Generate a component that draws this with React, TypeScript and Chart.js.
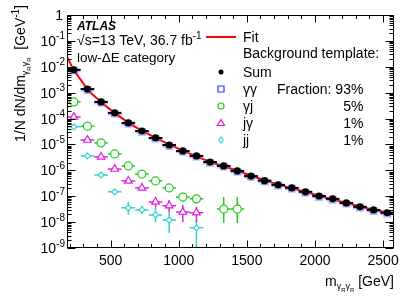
import React, { useEffect, useRef } from 'react';
import { Chart, registerables } from 'chart.js';

Chart.register(...registerables);

// ---------- data ----------
const massBins = [230, 330, 430, 530, 630, 730, 830, 930, 1030, 1130, 1230, 1330, 1430, 1530, 1630, 1730, 1830, 1930, 2030, 2130, 2230, 2330, 2430, 2530];
const binHalfWidth = 50;

const sumValues = [7.6e-3, 1.38e-3, 4.4e-4, 1.66e-4, 6.8e-5, 3.3e-5, 1.78e-5, 9.5e-6, 5.6e-6, 3.6e-6, 2.1e-6, 1.48e-6, 9.5e-7, 6.0e-7, 4.0e-7, 2.75e-7, 2.1e-7, 1.48e-7, 1.02e-7, 7.9e-8, 5.5e-8, 3.9e-8, 2.95e-8, 2.3e-8];
const ggValues = [7.07e-3, 1.28e-3, 4.09e-4, 1.54e-4, 6.32e-5, 3.07e-5, 1.66e-5, 8.84e-6, 5.21e-6, 3.35e-6, 1.95e-6, 1.38e-6, 8.84e-7, 5.58e-7, 3.72e-7, 2.56e-7, 1.95e-7, 1.38e-7, 9.49e-8, 7.35e-8, 5.12e-8, 3.63e-8, 2.74e-8, 2.14e-8];

const gjMass = [230, 330, 430, 530, 630, 730, 830, 930, 1030, 1130, 1330, 1430];
const gjValues = [4.4e-4, 5.1e-5, 1.15e-5, 4.3e-6, 1.48e-6, 7.2e-7, 3.9e-7, 2.1e-7, 9.3e-8, 7.9e-8, 3.2e-8, 3.2e-8];
const gjErrHigh = [null, null, null, null, null, null, null, null, 1.35e-7, 1.12e-7, 9.3e-8, 9.3e-8];
const gjErrLow = [null, null, null, null, null, null, null, null, 6.0e-8, 5.5e-8, 9.3e-9, 9.3e-9];

const jgMass = [230, 330, 430, 530, 630, 730, 830, 930, 1030, 1130];
const jgValues = [1.15e-4, 1.48e-5, 3.3e-6, 1.12e-6, 3.9e-7, 2.1e-7, 6.0e-8, 4.3e-8, 2.45e-8, 2.3e-8];
const jgErrHigh = [null, null, null, null, null, null, 8.5e-8, 7.2e-8, 4.6e-8, 3.9e-8];
const jgErrLow = [null, null, null, null, null, null, 3.55e-8, 2.45e-8, 1.0e-8, 1.0e-8];

const jjMass = [230, 330, 430, 530, 630, 730, 830, 930, 1130];
const jjValues = [4.8e-5, 3.6e-6, 6.6e-7, 1.48e-7, 3.55e-8, 2.95e-8, 1.9e-8, 1.2e-8, 6.0e-9];
const jjErrHigh = [null, null, null, null, 6.0e-8, 4.3e-8, 3.55e-8, 2.45e-8, 1.2e-8];
const jjErrLow = [null, null, null, null, 1.9e-8, 2.1e-8, 1.02e-8, 3.8e-9, 5e-10];

const fitMass = [180, 230, 280, 330, 430, 530, 630, 730, 830, 1030, 1230, 1430, 1630, 1830, 2030, 2230, 2430, 2580];
const fitValues = [2.4e-2, 7.6e-3, 3.2e-3, 1.38e-3, 4.4e-4, 1.66e-4, 7.0e-5, 3.4e-5, 1.8e-5, 5.8e-6, 2.15e-6, 9.6e-7, 4.1e-7, 2.05e-7, 1.05e-7, 5.5e-8, 3.0e-8, 2.0e-8];

const xMin = 180;
const xMax = 2580;
const xMajorTicks = [500, 1000, 1500, 2000, 2500];
const yExponents = [0, -1, -2, -3, -4, -5, -6, -7, -8, -9];

const legendLabels = ['Sum', 'γγ', 'γj', 'jγ', 'jj'];
const fractionLabels = ['93%', '5%', '1%', '1%'];

// ---------- styling ----------
const FONT = "'Liberation Sans', Arial, Helvetica, sans-serif";
const GREEN = '#22cc22';
const MAGENTA = '#dd22dd';
const CYAN = '#33d0d0';
const BLUE = '#3333ff';

type Part = { t: string; s: number; dy?: number; f?: string };

function partFont(p: Part) {
  return `${p.f || ''} ${p.s}px ${FONT}`.trim();
}
function richWidth(ctx: CanvasRenderingContext2D, parts: Part[]) {
  let w = 0;
  for (const p of parts) {
    ctx.font = partFont(p);
    w += ctx.measureText(p.t).width;
  }
  return w;
}
function drawRich(ctx: CanvasRenderingContext2D, parts: Part[], x: number, y: number) {
  let cx = x;
  for (const p of parts) {
    ctx.font = partFont(p);
    ctx.fillText(p.t, cx, y + (p.dy || 0));
    cx += ctx.measureText(p.t).width;
  }
}

function drawMarker(ctx: CanvasRenderingContext2D, kind: string, x: number, y: number, color: string) {
  ctx.save();
  ctx.strokeStyle = color;
  ctx.fillStyle = color;
  ctx.lineWidth = 1.2;
  ctx.beginPath();
  if (kind === 'dot') {
    ctx.arc(x, y, 2.5, 0, Math.PI * 2);
    ctx.fill();
  } else if (kind === 'square') {
    ctx.rect(x - 3, y - 3, 6, 6);
    ctx.stroke();
  } else if (kind === 'circle') {
    ctx.arc(x, y, 3, 0, Math.PI * 2);
    ctx.stroke();
  } else if (kind === 'triangle') {
    ctx.moveTo(x, y - 3.5);
    ctx.lineTo(x + 3.5, y + 2.5);
    ctx.lineTo(x - 3.5, y + 2.5);
    ctx.closePath();
    ctx.stroke();
  } else if (kind === 'diamond') {
    ctx.moveTo(x, y - 3);
    ctx.lineTo(x + 2.2, y);
    ctx.lineTo(x, y + 3);
    ctx.lineTo(x - 2.2, y);
    ctx.closePath();
    ctx.stroke();
  }
  ctx.restore();
}

const rootStyle = {
  id: 'rootStyle',
  beforeDatasetDraw(chart: any, args: any) {
    const ds = chart.data.datasets[args.index];
    if (!ds.errBars) return;
    const { ctx, chartArea } = chart;
    const xs = chart.scales.x;
    const ys = chart.scales.y;
    ctx.save();
    ctx.beginPath();
    ctx.rect(chartArea.left, chartArea.top, chartArea.right - chartArea.left, chartArea.bottom - chartArea.top);
    ctx.clip();
    ctx.strokeStyle = ds.errColor;
    ctx.lineWidth = ds.errWidth || 1.5;
    ds.data.forEach((pt: any, i: number) => {
      const px = xs.getPixelForValue(pt.x);
      const py = ys.getPixelForValue(pt.y);
      const x0 = xs.getPixelForValue(pt.x - binHalfWidth);
      const x1 = xs.getPixelForValue(pt.x + binHalfWidth);
      ctx.beginPath();
      ctx.moveTo(x0, py);
      ctx.lineTo(x1, py);
      const hi = ds.errHigh ? ds.errHigh[i] : null;
      const lo = ds.errLow ? ds.errLow[i] : null;
      if (hi != null && lo != null) {
        ctx.moveTo(px, ys.getPixelForValue(hi));
        ctx.lineTo(px, ys.getPixelForValue(lo));
      }
      ctx.stroke();
    });
    ctx.restore();
  },
  afterDraw(chart: any) {
    const { ctx, chartArea } = chart;
    const xs = chart.scales.x;
    const ys = chart.scales.y;
    const L = Math.round(chartArea.left) + 0.5;
    const R = Math.round(chartArea.right) - 0.5;
    const T = Math.round(chartArea.top) + 0.5;
    const B = Math.round(chartArea.bottom) - 0.5;
    ctx.save();
    ctx.strokeStyle = '#000';
    ctx.lineWidth = 1;
    ctx.strokeRect(L, T, R - L, B - T);

    // x ticks
    ctx.beginPath();
    for (let v = 200; v <= xMax; v += 100) {
      if (v <= xMin) continue;
      const px = Math.round(xs.getPixelForValue(v)) + 0.5;
      const len = v % 500 === 0 ? 7 : 3.5;
      ctx.moveTo(px, B);
      ctx.lineTo(px, B - len);
      ctx.moveTo(px, T);
      ctx.lineTo(px, T + len);
    }
    // y ticks
    for (const e of yExponents) {
      const base = Math.pow(10, e);
      const py = Math.round(ys.getPixelForValue(base)) + 0.5;
      ctx.moveTo(L, py);
      ctx.lineTo(L + 8, py);
      ctx.moveTo(R, py);
      ctx.lineTo(R - 8, py);
      if (e < 0) {
        for (let k = 2; k <= 9; k++) {
          const my = Math.round(ys.getPixelForValue(k * base)) + 0.5;
          ctx.moveTo(L, my);
          ctx.lineTo(L + 4, my);
          ctx.moveTo(R, my);
          ctx.lineTo(R - 4, my);
        }
      }
    }
    ctx.stroke();

    ctx.fillStyle = '#000';
    ctx.textBaseline = 'alphabetic';
    // x tick labels
    ctx.font = `14px ${FONT}`;
    ctx.textAlign = 'center';
    for (const v of xMajorTicks) {
      ctx.fillText(String(v), xs.getPixelForValue(v), 265);
    }
    // y tick labels
    ctx.textAlign = 'left';
    for (const e of yExponents) {
      const py = ys.getPixelForValue(Math.pow(10, e));
      const parts: Part[] = e === 0 ? [{ t: '1', s: 14 }] : [{ t: '10', s: 14 }, { t: String(e), s: 10, dy: -6.5 }];
      const w = richWidth(ctx, parts);
      const right = e === 0 ? 63 : 65;
      drawRich(ctx, parts, right - w, py + 5);
    }

    // x title
    const xt: Part[] = [
      { t: 'm', s: 14 },
      { t: 'γ', s: 9, dy: 3 },
      { t: 'R', s: 6, dy: 6 },
      { t: 'γ', s: 9, dy: 3 },
      { t: 'R', s: 6, dy: 6 },
      { t: ' [GeV]', s: 14 },
    ];
    const xtw = richWidth(ctx, xt);
    drawRich(ctx, xt, 394 - xtw, 286);

    // y title
    const yt: Part[] = [
      { t: '1/N dN/dm', s: 14 },
      { t: 'γ', s: 9, dy: 3 },
      { t: 'R', s: 6, dy: 6 },
      { t: 'γ', s: 9, dy: 3 },
      { t: 'R', s: 6, dy: 6 },
      { t: '  [GeV', s: 14 },
      { t: '-1', s: 10, dy: -6 },
      { t: ']', s: 14 },
    ];
    const ytw = richWidth(ctx, yt);
    ctx.save();
    ctx.translate(25, 5 + ytw);
    ctx.rotate(-Math.PI / 2);
    drawRich(ctx, yt, 0, 0);
    ctx.restore();

    // ATLAS label
    drawRich(ctx, [{ t: 'ATLAS', s: 12, f: 'italic bold' }], 77, 30);
    drawRich(ctx, [{ t: '√s=13 TeV, 36.7 fb', s: 14 }, { t: '-1', s: 10, dy: -6 }], 77, 45);
    drawRich(ctx, [{ t: 'low-ΔE category', s: 13.5 }], 77, 62);

    // legend
    ctx.textBaseline = 'middle';
    ctx.font = `14px ${FONT}`;
    ctx.textAlign = 'left';
    ctx.strokeStyle = '#ff0000';
    ctx.lineWidth = 2;
    ctx.beginPath();
    ctx.moveTo(206, 37);
    ctx.lineTo(236, 37);
    ctx.stroke();
    ctx.fillText('Fit', 243, 38);
    ctx.fillText('Background template:', 243, 54);
    const rows = [
      { y: 72, kind: 'dot', color: '#000' },
      { y: 89, kind: 'square', color: BLUE },
      { y: 106, kind: 'circle', color: GREEN },
      { y: 123, kind: 'triangle', color: MAGENTA },
      { y: 140, kind: 'diamond', color: CYAN },
    ];
    rows.forEach((r, i) => {
      drawMarker(ctx, r.kind, 221, r.y, r.color);
      ctx.fillStyle = '#000';
      ctx.font = `14px ${FONT}`;
      ctx.textAlign = 'left';
      ctx.fillText(legendLabels[i], 243, r.y + 1);
    });
    const fracText = 'Fraction: ' + fractionLabels[0];
    const fracRight = 277 + ctx.measureText(fracText).width;
    ctx.fillText(fracText, 277, 90);
    ctx.textAlign = 'right';
    for (let i = 1; i < fractionLabels.length; i++) {
      ctx.fillText(fractionLabels[i], fracRight, 90 + i * 17);
    }
    ctx.restore();
  },
};

function pts(xs: number[], ys: number[]) {
  return xs.map((x, i) => ({ x, y: ys[i] }));
}

export default function App() {
  const ref = useRef<HTMLCanvasElement>(null);
  useEffect(() => {
    if (!ref.current) return;
    const chart = new Chart(ref.current, {
      type: 'scatter',
      data: {
        datasets: [
          {
            label: 'Sum',
            data: pts(massBins, sumValues),
            pointStyle: 'circle',
            pointRadius: 3.6,
            backgroundColor: '#000',
            borderColor: '#000',
            borderWidth: 0,
            errBars: true,
            errColor: '#000',
            errWidth: 2,
          } as any,
          {
            label: 'γγ',
            data: pts(massBins, ggValues),
            pointStyle: 'rect',
            pointRadius: 4.6,
            backgroundColor: 'rgba(0,0,0,0)',
            borderColor: 'rgba(100,100,255,0.6)',
            borderWidth: 1.2,
            errBars: true,
            errColor: 'rgba(110,110,255,0.45)',
            errWidth: 3.5,
          } as any,
          {
            label: 'γj',
            data: pts(gjMass, gjValues),
            pointStyle: 'circle',
            pointRadius: 4,
            backgroundColor: '#fff',
            borderColor: GREEN,
            borderWidth: 1.2,
            errBars: true,
            errColor: GREEN,
            errHigh: gjErrHigh,
            errLow: gjErrLow,
          } as any,
          {
            label: 'jγ',
            data: pts(jgMass, jgValues),
            pointStyle: 'triangle',
            pointRadius: 4.4,
            backgroundColor: '#fff',
            borderColor: MAGENTA,
            borderWidth: 1.2,
            errBars: true,
            errColor: MAGENTA,
            errHigh: jgErrHigh,
            errLow: jgErrLow,
          } as any,
          {
            label: 'jj',
            data: pts(jjMass, jjValues),
            pointStyle: 'rectRot',
            pointRadius: 3,
            backgroundColor: '#fff',
            borderColor: CYAN,
            borderWidth: 1.2,
            errBars: true,
            errColor: CYAN,
            errHigh: jjErrHigh,
            errLow: jjErrLow,
          } as any,
          {
            label: 'Fit',
            type: 'line',
            data: pts(fitMass, fitValues),
            showLine: true,
            borderColor: '#ff0000',
            borderWidth: 2,
            pointRadius: 0,
            cubicInterpolationMode: 'monotone',
            fill: false,
          } as any,
        ],
      },
      options: {
        responsive: false,
        animation: false,
        events: [],
        layout: { padding: { left: 67, right: 21, top: 15, bottom: 50 } },
        scales: {
          x: { type: 'linear', min: xMin, max: xMax, display: false },
          y: { type: 'logarithmic', min: 1e-9, max: 1, display: false },
        },
        plugins: {
          legend: { display: false },
          tooltip: { enabled: false },
        },
      },
      plugins: [rootStyle],
    });
    return () => chart.destroy();
  }, []);
  return (
    <div style={{ position: 'fixed', left: 0, top: 0, width: 415, height: 298, background: '#fff' }}>
      <canvas ref={ref} width={415} height={298} style={{ display: 'block' }} />
    </div>
  );
}
